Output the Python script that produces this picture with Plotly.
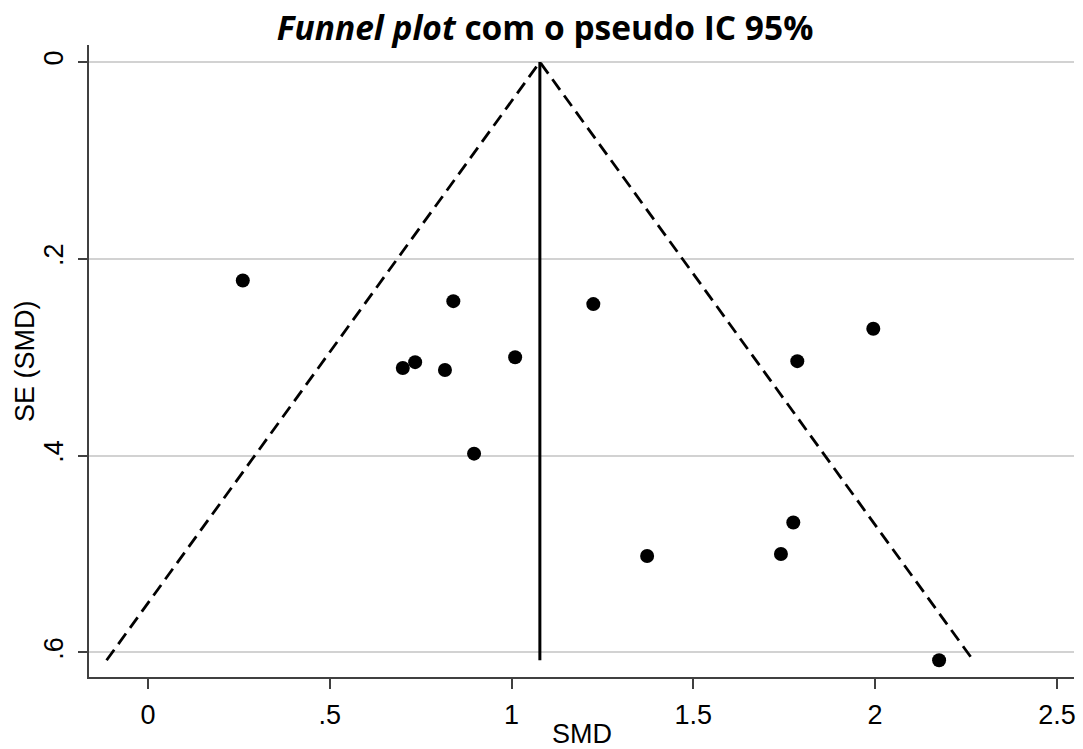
import plotly.graph_objects as go

# Study estimates
smd = [0.261, 0.840, 1.225, 1.995, 0.701, 0.735, 0.817, 1.010, 1.786, 0.897, 1.775, 1.741, 1.373, 2.176]
se = [0.222, 0.243, 0.246, 0.271, 0.311, 0.305, 0.313, 0.300, 0.304, 0.398, 0.468, 0.500, 0.502, 0.608]

pooled = 1.078      # vertical line (pooled SMD)
se_max = 0.608      # depth of funnel
z = 1.96

x_ticks = [0, 0.5, 1, 1.5, 2, 2.5]
x_labels = ["0", ".5", "1", "1.5", "2", "2.5"]
y_ticks = [0, 0.2, 0.4, 0.6]
y_labels = ["0", ".2", ".4", ".6"]

fig = go.Figure()

# pseudo 95% CI funnel
fig.add_trace(go.Scatter(
    x=[pooled - z * se_max, pooled, pooled + z * se_max],
    y=[se_max, 0, se_max],
    mode="lines",
    line=dict(color="black", width=2.8, dash="13px,7px"),
    hoverinfo="skip", showlegend=False,
))
# pooled estimate line
fig.add_trace(go.Scatter(
    x=[pooled, pooled], y=[0, se_max],
    mode="lines", line=dict(color="black", width=3),
    hoverinfo="skip", showlegend=False,
))
# studies
fig.add_trace(go.Scatter(
    x=smd, y=se, mode="markers",
    marker=dict(color="black", size=14),
    showlegend=False,
))

FONT = "Liberation Sans, Arial, sans-serif"
tick_font = dict(family=FONT, size=27, color="black")

fig.update_layout(
    width=1083, height=749,
    margin=dict(l=89, r=9, t=45, b=72),
    paper_bgcolor="white", plot_bgcolor="white",
    title=dict(
        text="<b><i>Funnel plot</i> com o pseudo IC 95%</b>",
        x=545 / 1083, xanchor="center", xref="container",
        y=1 - 28 / 749, yanchor="middle", yref="container",
        font=dict(family="Open Sans, sans-serif", size=33.5, color="black"),
    ),
    xaxis=dict(
        range=[-0.162, 2.547],
        tickvals=x_ticks, ticktext=x_labels,
        showgrid=False, zeroline=False,
        showline=True, linecolor="#404040", linewidth=2,
        ticks="outside", ticklen=10, tickwidth=2, tickcolor="#404040",
        tickfont=tick_font, automargin=False, ticklabelstandoff=3,
    ),
    yaxis=dict(
        range=[0.625, -0.0173],
        tickvals=y_ticks, ticktext=y_labels,
        tickangle=-90,
        showgrid=True, gridcolor="#d2d2d2", gridwidth=2,
        zeroline=False,
        showline=True, linecolor="#404040", linewidth=2,
        ticks="outside", ticklen=9, tickwidth=2, tickcolor="#404040",
        tickfont=tick_font, automargin=False, ticklabelstandoff=4,
    ),
    annotations=[
        dict(text="SMD", xref="paper", yref="paper", x=0.5, y=0,
             xanchor="center", yanchor="middle", yshift=-57, showarrow=False,
             font=dict(family=FONT, size=27, color="black")),
        dict(text="SE (SMD)", xref="paper", yref="paper", x=0, y=0.5,
             xanchor="center", yanchor="middle", xshift=-64, textangle=-90,
             showarrow=False, font=dict(family=FONT, size=27, color="black")),
    ],
)

# remove the default 8px page margin so the figure fills the window exactly
fig.write_html("out.html",
               config={"displayModeBar": False},
               post_script="document.body.style.margin='0';document.body.style.overflow='hidden';")
